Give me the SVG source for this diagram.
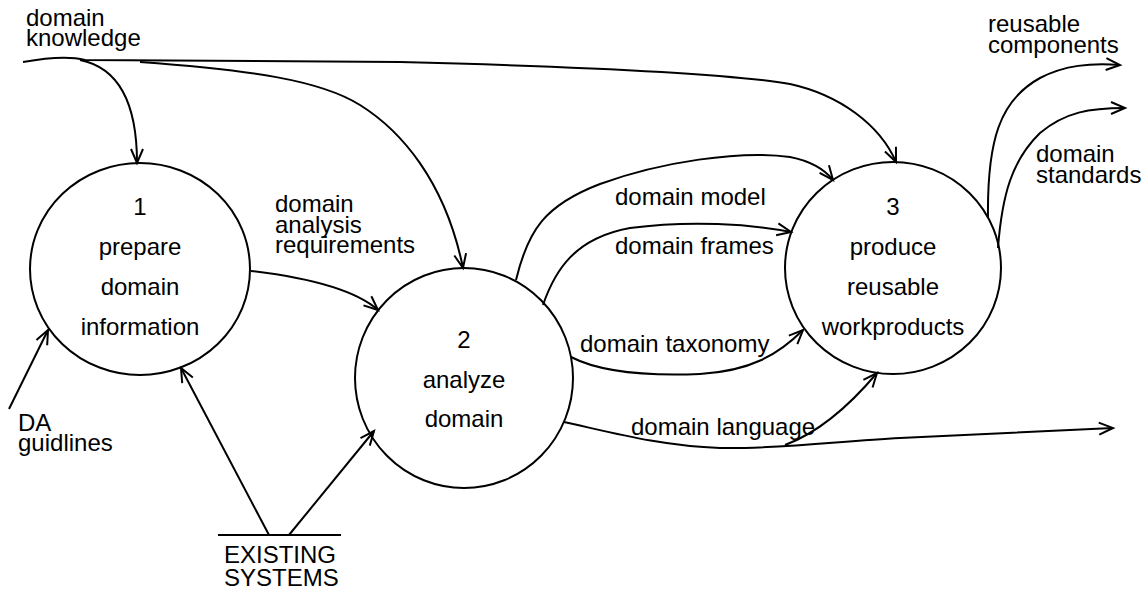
<svg xmlns="http://www.w3.org/2000/svg" width="1147" height="591" viewBox="0 0 1147 591">
  <style>
    .bubble { fill: none; stroke: #000; stroke-width: 2; }
    .flow { fill: none; stroke: #000; stroke-width: 2; }
    .arrow { marker-end: url(#vhead); }
    text { font-family: "Liberation Sans", Arial, sans-serif; font-size: 24px; fill: #000; }
    .c { text-anchor: middle; }
  </style>
  <defs>
    <marker id="vhead" markerUnits="userSpaceOnUse" markerWidth="18" markerHeight="14" refX="15" refY="6" orient="auto" overflow="visible">
      <path d="M1,0 L15,6 L1,12" fill="none" stroke="#000" stroke-width="2"/>
    </marker>
  </defs>
  <rect width="1147" height="591" fill="#fff"/>

  <!-- processes -->
  <g id="node-prepare">
    <ellipse class="bubble" cx="140" cy="269" rx="110" ry="106"/>
    <text class="c" x="140" y="215">1</text>
    <text class="c" x="140" y="255">prepare</text>
    <text class="c" x="140" y="295">domain</text>
    <text class="c" x="140" y="335">information</text>
  </g>
  <g id="node-analyze">
    <ellipse class="bubble" cx="464" cy="378" rx="109" ry="110"/>
    <text class="c" x="464" y="348">2</text>
    <text class="c" x="464" y="388">analyze</text>
    <text class="c" x="464" y="427">domain</text>
  </g>
  <g id="node-produce">
    <ellipse class="bubble" cx="893" cy="268" rx="108" ry="106"/>
    <text class="c" x="893" y="215">3</text>
    <text class="c" x="893" y="255">produce</text>
    <text class="c" x="893" y="295">reusable</text>
    <text class="c" x="893" y="335">workproducts</text>
  </g>

  <!-- data store -->
  <g id="store-existing">
    <line class="flow" x1="218" y1="535" x2="341" y2="535"/>
    <text x="224" y="563">EXISTING</text>
    <text x="224" y="586">SYSTEMS</text>
  </g>

  <!-- flows -->
  <g id="connectors">
    <path class="flow arrow" d="M23,62 C45,58 70,56 85,60 L400,62 C560,66 720,72 790,84 C840,95 880,125 896,162"/>
    <path class="flow arrow" d="M80,60 C110,66 137,90 137,163"/>
    <path class="flow arrow" d="M140,62 C250,70 320,80 360,105 C400,130 445,180 463,268"/>
    <path class="flow arrow" d="M251,271 C310,278 355,290 378,310"/>
    <path class="flow arrow" d="M9,409 L48,330"/>
    <path class="flow arrow" d="M269,535 L181,368"/>
    <path class="flow arrow" d="M289,535 L374,431"/>
    <path class="flow arrow" d="M516,280 C528,230 545,205 600,184 C660,162 740,150 790,157 C810,161 825,170 833,180"/>
    <path class="flow arrow" d="M543,305 C555,270 575,238 630,228 C690,220 750,224 791,232"/>
    <path class="flow arrow" d="M571,357 C600,372 650,376 700,374 C750,371 778,355 803,330"/>
    <path class="flow arrow" d="M564,422 C610,432 660,446 720,448 C780,449 840,441 900,438 L1113,428"/>
    <path class="flow arrow" d="M785,445 C820,432 850,405 877,373"/>
    <path class="flow arrow" d="M988,218 C987,140 1000,100 1040,78 C1065,65 1090,63 1120,65"/>
    <path class="flow arrow" d="M998,248 C1002,195 1012,160 1040,133 C1065,112 1090,108 1125,108"/>
  </g>

  <!-- flow labels -->
  <g id="labels">
    <text x="26" y="26">domain</text>
    <text x="26" y="46">knowledge</text>
    <text x="275" y="212">domain</text>
    <text x="275" y="233">analysis</text>
    <text x="275" y="253">requirements</text>
    <text x="18" y="431">DA</text>
    <text x="18" y="451">guidlines</text>
    <text x="615" y="205">domain model</text>
    <text x="615" y="254">domain frames</text>
    <text x="580" y="352">domain taxonomy</text>
    <text x="631" y="435">domain language</text>
    <text x="988" y="32">reusable</text>
    <text x="988" y="53">components</text>
    <text x="1036" y="162">domain</text>
    <text x="1036" y="183">standards</text>
  </g>
</svg>
